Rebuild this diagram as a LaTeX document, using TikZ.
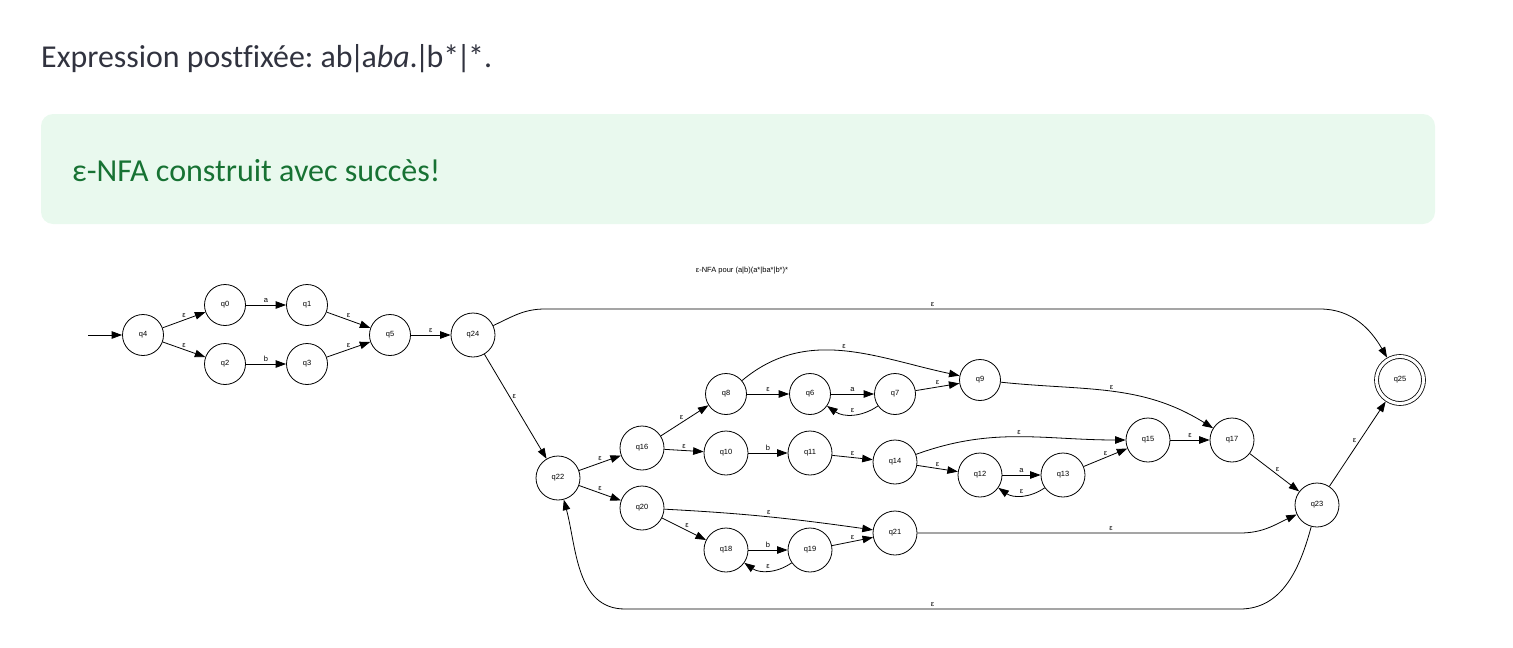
\documentclass[tikz,border=0pt]{standalone}
\usepackage{fontspec}
\setmainfont[Ligatures=NoCommon]{Carlito}
\newfontfamily\gfont{Liberation Sans}
\usetikzlibrary{arrows.meta}
\definecolor{hdr}{RGB}{49,51,63}
\definecolor{okbg}{RGB}{233,249,238}
\definecolor{oktext}{RGB}{23,114,51}
\newcommand{\vbarx}{\kern-0.09em|\kern-0.09em}
\frenchspacing
\begin{document}
\begin{tikzpicture}[x=1pt,y=-1pt,
  st/.style={circle,draw,line width=0.8pt,minimum size=41pt,inner sep=0pt,font=\gfont\fontsize{7.5}{9}\selectfont},
  st2/.style={st,minimum size=44pt},
  acc/.style={st,minimum size=47pt,double,double distance=3.1pt,outer sep=2.4pt},
  lab/.style={font=\gfont\fontsize{7.5}{9}\selectfont,inner sep=1pt},
  edge/.style={line width=0.8pt,-{Triangle[length=10.5pt,width=7.5pt]}},
]
\useasboundingbox (0,0) rectangle (1513,648);
\node[anchor=base west, inner sep=0, text=hdr] (hdr) at (41,67) {\resizebox{451pt}{!}{Expression postfixée: ab\vbarx a\textit{ba}.\vbarx b*\vbarx*.}};
\fill[okbg, rounded corners=12pt] (41,114) rectangle (1435,224);
\node[anchor=base west, inner sep=0, text=oktext] (ok) at (72,181) {\resizebox{368pt}{!}{ε-NFA construit avec succès!}};
\node[lab] (title) at (742,271) {ε-NFA pour (a|b)(a*|ba*|b*)*};

\node[st] (q4) at (143,335) {q4};
\node[st] (q0) at (225,305) {q0};
\node[st] (q1) at (307,305) {q1};
\node[st] (q2) at (225,364) {q2};
\node[st] (q3) at (307,364) {q3};
\node[st] (q5) at (390,335) {q5};
\node[st2] (q24) at (473,335) {q24};
\node[st] (q8) at (726,394) {q8};
\node[st] (q6) at (810,394) {q6};
\node[st] (q7) at (895,394) {q7};
\node[st] (q9) at (980,380) {q9};
\node[st2] (q16) at (642,448) {q16};
\node[st2] (q10) at (726,453) {q10};
\node[st2] (q11) at (810,453) {q11};
\node[st2] (q14) at (895,462) {q14};
\node[st2] (q12) at (980,475) {q12};
\node[st2] (q13) at (1063,475) {q13};
\node[st2] (q15) at (1148,440) {q15};
\node[st2] (q17) at (1232,440) {q17};
\node[st2] (q22) at (558,478) {q22};
\node[st2] (q20) at (642,508) {q20};
\node[st2] (q18) at (726,550) {q18};
\node[st2] (q19) at (810,550) {q19};
\node[st2] (q21) at (895,533) {q21};
\node[st2] (q23) at (1317,505) {q23};
\node[acc] (q25) at (1400,380) {q25};

\coordinate (s) at (88,335);
\coordinate (t1) at (545,309);
\coordinate (t2) at (1320,309);
\coordinate (b1) at (1240,609);
\coordinate (b2) at (625,609);
\coordinate (c1) at (1240,533);

\draw[edge] (s) -- (q4);
\draw[edge] (q4) -- node[lab,above=1pt] {ε} (q0);
\draw[edge] (q4) -- node[lab,above=1pt] {ε} (q2);
\draw[edge] (q0) -- node[lab,above=1pt] {a} (q1);
\draw[edge] (q2) -- node[lab,above=1pt] {b} (q3);
\draw[edge] (q1) -- node[lab,above=1pt] {ε} (q5);
\draw[edge] (q3) -- node[lab,above=1pt] {ε} (q5);
\draw[edge] (q5) -- node[lab,above=1pt] {ε} (q24);
\draw[edge] (q24) to[out=25,in=180] (t1) -- node[lab,above=1pt] {ε} (t2) to[out=0,in=120] (q25);
\draw[edge] (q24) -- node[lab,pos=0.4,right=2pt] {ε} (q22);
\draw[edge] (q22) -- node[lab,above=1pt] {ε} (q16);
\draw[edge] (q22) -- node[lab,above=1pt] {ε} (q20);
\draw[edge] (q16) -- node[lab,above left=0pt] {ε} (q8);
\draw[edge] (q16) -- node[lab,above=1pt] {ε} (q10);
\draw[edge] (q8) -- node[lab,above=1pt] {ε} (q6);
\draw[edge] (q6) -- node[lab,above=1pt] {a} (q7);
\draw[edge] (q7) to[bend left=35] node[lab,above=1pt] {ε} (q6);
\draw[edge] (q7) -- node[lab,above=1pt] {ε} (q9);
\draw[edge] (q8) to[out=40,in=168] node[lab,above=1pt] {ε} (q9);
\draw[edge] (q9) to[out=-6,in=148] node[lab,above=1pt] {ε} (q17);
\draw[edge] (q10) -- node[lab,above=1pt] {b} (q11);
\draw[edge] (q11) -- node[lab,above=1pt] {ε} (q14);
\draw[edge] (q14) to[out=20,in=180] node[lab,above=1pt] {ε} (q15);
\draw[edge] (q14) -- node[lab,above=1pt] {ε} (q12);
\draw[edge] (q12) -- node[lab,above=1pt] {a} (q13);
\draw[edge] (q13) to[bend left=35] node[lab,above=1pt] {ε} (q12);
\draw[edge] (q13) -- node[lab,above=1pt] {ε} (q15);
\draw[edge] (q15) -- node[lab,above=1pt] {ε} (q17);
\draw[edge] (q17) -- node[lab,above right=0pt] {ε} (q23);
\draw[edge] (q20) to[out=-3,in=172] node[lab,above=1pt] {ε} (q21);
\draw[edge] (q20) -- node[lab,above right=0pt] {ε} (q18);
\draw[edge] (q18) -- node[lab,above=1pt] {b} (q19);
\draw[edge] (q19) to[bend left=35] node[lab,above=1pt] {ε} (q18);
\draw[edge] (q19) -- node[lab,above=1pt] {ε} (q21);
\draw[edge] (q21) -- node[lab,pos=0.6,above=1pt] {ε} (c1) to[out=0,in=205] (q23);
\draw[edge] (q23) -- node[lab,above left=0pt] {ε} (q25);
\draw[edge] (q23) to[out=-105,in=0] (b1) -- node[lab,above=1pt] {ε} (b2) to[out=180,in=-75] (q22);
\end{tikzpicture}
\end{document}
